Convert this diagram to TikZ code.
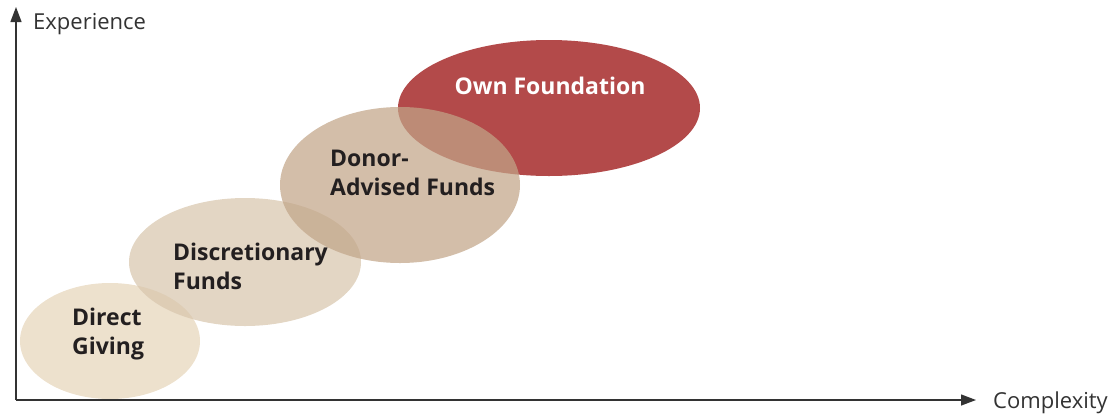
\documentclass[tikz,border=0pt]{standalone}
\usepackage{fontspec}
\setmainfont{Open Sans}
\usetikzlibrary{arrows.meta}
\definecolor{axisgray}{HTML}{333333}
\definecolor{labelink}{HTML}{231F20}
\definecolor{tanA}{RGB}{230,213,186}
\definecolor{tanB}{RGB}{216,198,173}
\definecolor{tanC}{RGB}{194,165,136}
\definecolor{ownred}{HTML}{B34A4A}
\tikzset{
  axis/.style={line width=1.3pt, draw=axisgray, -{Triangle[length=15pt,width=11pt]}},
  axislabel/.style={text=axisgray, font=\fontsize{22}{26}\selectfont, inner sep=0pt},
  stage/.style={text=labelink, font=\fontsize{23}{29}\selectfont\bfseries, align=left, inner sep=0pt},
  blob/.style={fill opacity=0.72}
}
\begin{document}
\begin{tikzpicture}[x=1pt,y=-1pt]
  \useasboundingbox (0,0) rectangle (1116,413);

  % Stages
  \fill[ownred] (549,108) ellipse [x radius=151, y radius=68];
  \fill[tanA,blob] (110,341) ellipse [x radius=90, y radius=58];
  \fill[tanB,blob] (245,262) ellipse [x radius=116, y radius=64];
  \fill[tanC,blob] (400,185) ellipse [x radius=120, y radius=78];

  \node[stage, anchor=west] (direct) at (72,334) {Direct\\Giving};
  \node[stage, anchor=west] (discr) at (173,266) {Discretionary\\Funds};
  \node[stage, anchor=west] (donor) at (330,173) {Donor-\\Advised Funds};
  \node[stage, text=white] (own) at (550,86) {Own Foundation};

  % Axes
  \coordinate (origin) at (16,400);
  \coordinate (ytip) at (16,7);
  \coordinate (xtip) at (976,400);
  \draw[axis] (origin) -- (ytip);
  \draw[axis] (origin) -- (xtip);
  \node[axislabel, anchor=west] (exp) at (33,24) {Experience};
  \node[axislabel, anchor=west] (cplx) at (993,403) {Complexity};
\end{tikzpicture}
\end{document}
